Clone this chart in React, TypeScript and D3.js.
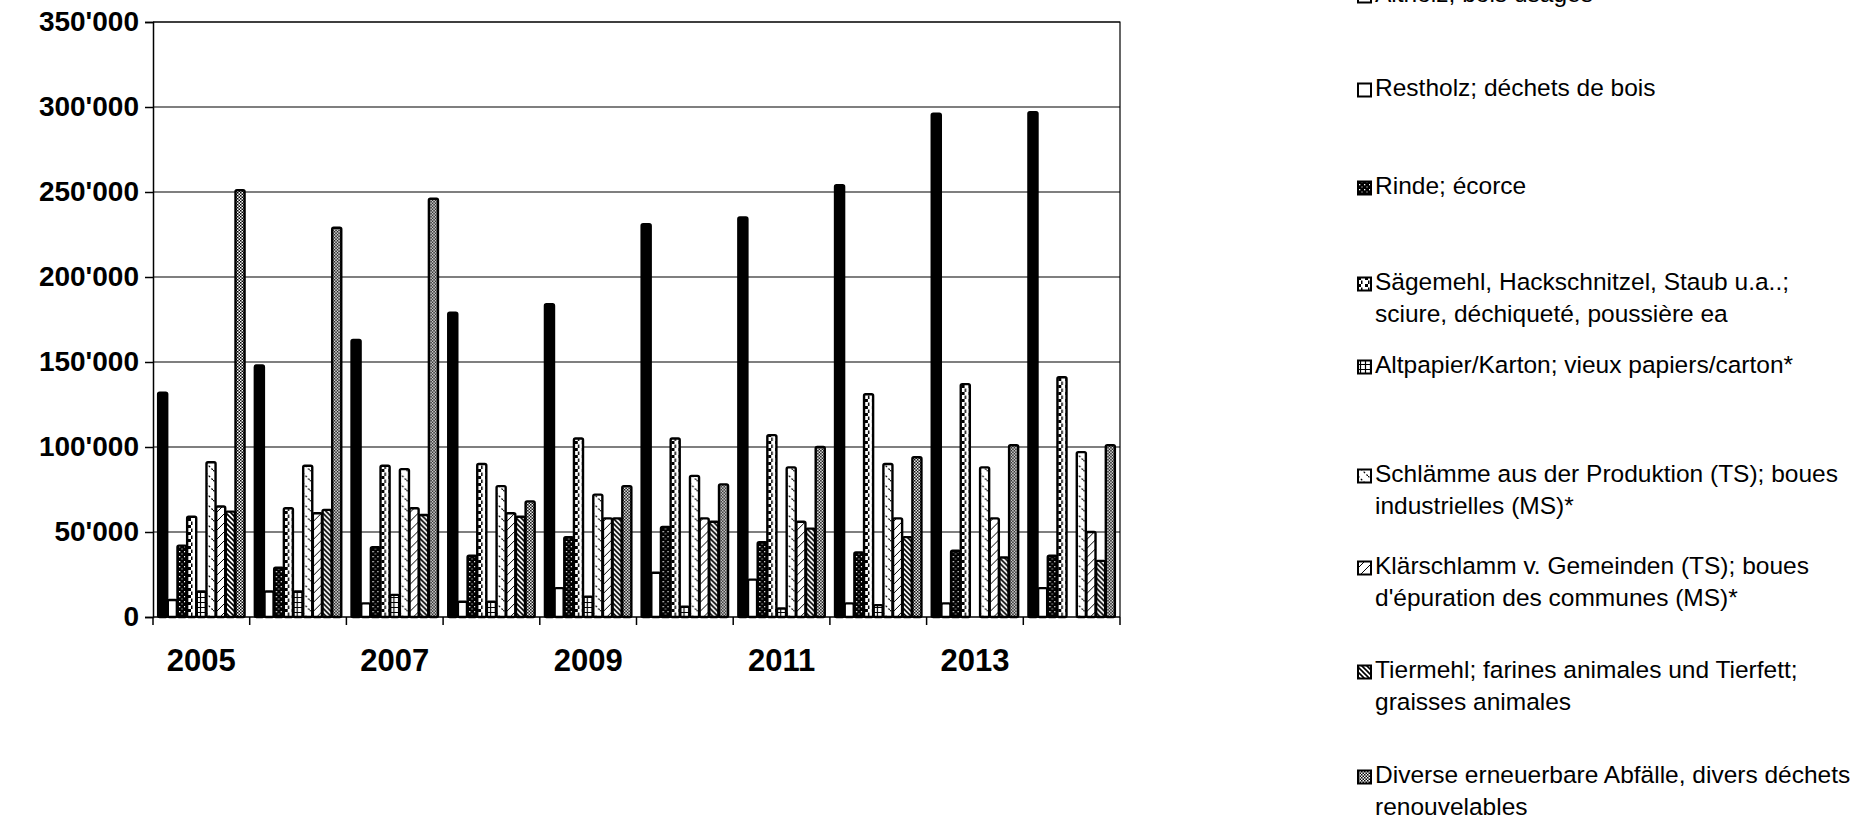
import React, { useEffect, useRef } from 'react';
import * as d3 from 'd3';

// years on the x axis
const years = ['2005', '2006', '2007', '2008', '2009', '2010', '2011', '2012', '2013', '2014'];
const yearLabels = ['2005', '2007', '2009', '2011', '2013'];

// tonnes per year, one array per category
const altholz = [132000, 148000, 163000, 179000, 184000, 231000, 235000, 254000, 296000, 297000];
const restholz = [10000, 15000, 8000, 9000, 17000, 26000, 22000, 8000, 8000, 17000];
const rinde = [42000, 29000, 41000, 36000, 47000, 53000, 44000, 38000, 39000, 36000];
const saegemehl = [59000, 64000, 89000, 90000, 105000, 105000, 107000, 131000, 137000, 141000];
const altpapier = [15000, 15000, 13000, 9000, 12000, 6000, 5000, 7000, 0, 0];
const schlaemme = [91000, 89000, 87000, 77000, 72000, 83000, 88000, 90000, 88000, 97000];
const klaerschlamm = [65000, 61000, 64000, 61000, 58000, 58000, 56000, 58000, 58000, 50000];
const tiermehl = [62000, 63000, 60000, 59000, 58000, 56000, 52000, 47000, 35000, 33000];
const diverse = [251000, 229000, 246000, 68000, 77000, 78000, 100000, 94000, 101000, 101000];

const seriesKeys = ['altholz', 'restholz', 'rinde', 'saegemehl', 'altpapier', 'schlaemme', 'klaerschlamm', 'tiermehl', 'diverse'];
const seriesValues = [altholz, restholz, rinde, saegemehl, altpapier, schlaemme, klaerschlamm, tiermehl, diverse];
const seriesLabels = [
    ['Altholz; bois usagés'],
    ['Restholz; déchets de bois'],
    ['Rinde; écorce'],
    ['Sägemehl, Hackschnitzel, Staub u.a..;', 'sciure, déchiqueté, poussière ea'],
    ['Altpapier/Karton; vieux papiers/carton*'],
    ['Schlämme aus der Produktion (TS); boues', 'industrielles (MS)*'],
    ['Klärschlamm v. Gemeinden (TS); boues', "d'épuration des communes (MS)*"],
    ['Tiermehl; farines animales und Tierfett;', 'graisses animales'],
    ['Diverse erneuerbare Abfälle, divers déchets', 'renouvelables'],
];
const yTicks = [0, 50000, 100000, 150000, 200000, 250000, 300000, 350000];

const W = 1867;
const H = 820;

const App: React.FC = () => {
    const ref = useRef<SVGSVGElement>(null);

    useEffect(() => {
        const svg = d3.select(ref.current);
        svg.selectAll('*').remove();

        const margin = { top: 22, left: 153, right: 1120, bottom: 617 };
        const font = 'Liberation Sans, Arial, sans-serif';

        // patterns for the black and white fills
        const defs = svg.append('defs');
        const pat = (id: string, size: number, bg: string) => {
            const p = defs
                .append('pattern')
                .attr('id', id)
                .attr('patternUnits', 'userSpaceOnUse')
                .attr('width', size)
                .attr('height', size);
            p.append('rect').attr('width', size).attr('height', size).attr('fill', bg);
            return p;
        };
        pat('p-altholz', 4, '#000');
        const pRinde = pat('p-rinde', 5, '#000');
        pRinde.append('rect').attr('x', 1).attr('y', 1).attr('width', 1.3).attr('height', 1.3).attr('fill', '#fff');
        pRinde.append('rect').attr('x', 3.5).attr('y', 3.5).attr('width', 1).attr('height', 1).attr('fill', '#fff');
        const pSaege = pat('p-saegemehl', 7, '#fff');
        pSaege.append('path').attr('d', 'M0 0h3v3h-3z M3 3.5h1.5v3.5h-1.5z').attr('fill', '#000');
        const pPapier = pat('p-altpapier', 5, '#fff');
        pPapier.append('path').attr('d', 'M0 2.5h5 M2.5 0v5').attr('stroke', '#000').attr('stroke-width', 1.2);
        const pSchl = pat('p-schlaemme', 10, '#fff');
        pSchl.append('path').attr('d', 'M0 0L10 10').attr('stroke', '#000').attr('stroke-width', 1.2).attr('stroke-dasharray', '2,2');
        const pKlaer = pat('p-klaerschlamm', 9, '#fff');
        pKlaer.append('path').attr('d', 'M0 9L9 0').attr('stroke', '#000').attr('stroke-width', 1);
        const pTier = pat('p-tiermehl', 5, '#fff');
        pTier.append('path').attr('d', 'M-1 -1L6 6 M-1 4L1 6 M4 -1L6 1').attr('stroke', '#000').attr('stroke-width', 1.6);
        const pDiv = pat('p-diverse', 3, '#fff');
        pDiv.append('path').attr('d', 'M0 0h1.5v1.5h-1.5z M1.5 1.5h1.5v1.5h-1.5z').attr('fill', '#000');
        pat('p-restholz', 4, '#fff');

        const x0 = d3
            .scaleBand()
            .domain(years)
            .range([margin.left, margin.right])
            .paddingInner(0)
            .paddingOuter(0);

        const x1 = d3
            .scaleBand()
            .domain(seriesKeys)
            .range([0, x0.bandwidth()])
            .paddingInner(0)
            .paddingOuter(0.5);

        const y = d3.scaleLinear().domain([0, 350000]).range([margin.bottom, margin.top]);

        // gridlines
        svg.append('g')
            .selectAll('line')
            .data(yTicks.slice(1))
            .enter()
            .append('line')
            .attr('x1', margin.left)
            .attr('x2', margin.right)
            .attr('y1', (d) => y(d))
            .attr('y2', (d) => y(d))
            .attr('stroke', '#555')
            .attr('stroke-width', 1.5);

        // plot frame (top and right)
        svg.append('path')
            .attr('d', `M${margin.left},${margin.top}H${margin.right}V${margin.bottom}`)
            .attr('fill', 'none')
            .attr('stroke', '#000')
            .attr('stroke-width', 1.2);

        // bars
        const groups = svg
            .append('g')
            .selectAll('g')
            .data(years)
            .enter()
            .append('g')
            .attr('transform', (d) => `translate(${x0(d)},0)`);

        groups
            .selectAll('rect')
            .data((_, i) => seriesKeys.map((k, s) => ({ key: k, value: seriesValues[s][i] })))
            .enter()
            .filter((d) => d.value > 0)
            .append('rect')
            .attr('x', (d) => (x1(d.key) ?? 0) + 0.3)
            .attr('y', (d) => y(d.value))
            .attr('width', x1.bandwidth() - 0.6)
            .attr('height', (d) => margin.bottom - y(d.value))
            .attr('rx', 1.5)
            .attr('fill', (d) => `url(#p-${d.key})`)
            .attr('stroke', '#000')
            .attr('stroke-width', 2.4);

        // y axis
        const yAxis = svg
            .append('g')
            .attr('transform', `translate(${margin.left},0)`)
            .call(
                d3
                    .axisLeft(y)
                    .tickValues(yTicks)
                    .tickSize(8)
                    .tickPadding(6)
                    .tickFormat((d) => d3.format(',')(d as number).replace(/,/g, "'"))
            );
        yAxis.select('.domain').attr('stroke', '#000').attr('stroke-width', 1.5);
        yAxis.selectAll('.tick line').attr('stroke', '#000').attr('stroke-width', 1.5);
        yAxis
            .selectAll('text')
            .attr('font-family', font)
            .attr('font-weight', 'bold')
            .attr('font-size', 28)
            .attr('fill', '#000');

        // x axis: ticks at group boundaries, labels every other year
        const xAxis = svg.append('g');
        xAxis
            .append('line')
            .attr('x1', margin.left)
            .attr('x2', margin.right)
            .attr('y1', margin.bottom)
            .attr('y2', margin.bottom)
            .attr('stroke', '#000')
            .attr('stroke-width', 1.5);
        xAxis
            .selectAll('line.tick')
            .data(years.concat(['end']))
            .enter()
            .append('line')
            .attr('class', 'tick')
            .attr('x1', (d) => (d === 'end' ? margin.right : x0(d) ?? 0))
            .attr('x2', (d) => (d === 'end' ? margin.right : x0(d) ?? 0))
            .attr('y1', margin.bottom)
            .attr('y2', margin.bottom + 8)
            .attr('stroke', '#000')
            .attr('stroke-width', 1.5);
        xAxis
            .selectAll('text')
            .data(yearLabels)
            .enter()
            .append('text')
            .attr('x', (d) => (x0(d) ?? 0) + x0.bandwidth() / 2)
            .attr('y', margin.bottom + 46)
            .attr('text-anchor', 'middle')
            .attr('dominant-baseline', 'middle')
            .attr('font-family', font)
            .attr('font-weight', 'bold')
            .attr('font-size', 31)
            .text((d) => d);

        // legend
        const legendY = [-4, 90, 188, 284, 367, 476, 568, 672, 777];
        const legend = svg
            .append('g')
            .selectAll('g')
            .data(seriesKeys)
            .enter()
            .append('g')
            .attr('transform', (_, i) => `translate(1358,${legendY[i]})`);

        legend
            .append('rect')
            .attr('x', 0)
            .attr('y', -6.5)
            .attr('width', 13)
            .attr('height', 13)
            .attr('fill', (d) => (d === 'altholz' ? '#fff' : `url(#p-${d})`))
            .attr('stroke', '#000')
            .attr('stroke-width', 2);

        legend
            .filter((d) => d === 'altholz')
            .append('line')
            .attr('x1', 0)
            .attr('x2', 13)
            .attr('y1', 1.5)
            .attr('y2', 1.5)
            .attr('stroke', '#000')
            .attr('stroke-width', 2);

        legend
            .selectAll('text')
            .data((_, i) => seriesLabels[i])
            .enter()
            .append('text')
            .attr('x', 17)
            .attr('y', (_, j) => j * 32)
            .attr('dominant-baseline', 'middle')
            .attr('font-family', font)
            .attr('font-size', 24.5)
            .attr('fill', '#000')
            .text((d) => d);
    }, []);

    return (
        <svg
            ref={ref}
            width={W}
            height={H}
            style={{ position: 'absolute', left: 0, top: 0, background: '#fff' }}
        ></svg>
    );
};

export default App;
